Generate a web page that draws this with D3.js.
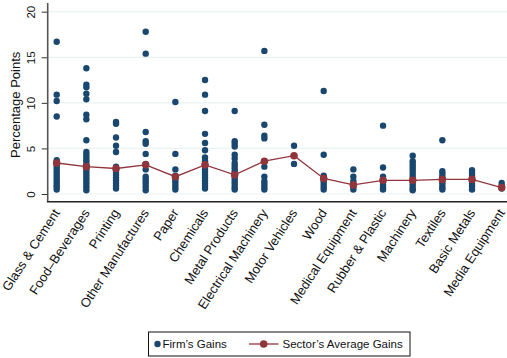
<!DOCTYPE html>
<html>
<head>
<meta charset="utf-8">
<script src="https://cdn.jsdelivr.net/npm/d3@7"></script>
<style>
  html, body { margin: 0; padding: 0; background: #fff; }
  svg { display: block; font-family: "Liberation Sans", Arial, sans-serif; }
</style>
</head>
<body>
<svg id="chart" width="507" height="358"></svg>
<script>
// Sectors, in plotting order
const sectors = [
  "Glass & Cement", "Food\u2013Beverages", "Printing", "Other Manufactures",
  "Paper", "Chemicals", "Metal Products", "Electrical Machinery",
  "Motor Vehicles", "Wood", "Medical Equipment", "Rubber & Plastic",
  "Machinery", "Textiles", "Basic Metals", "Media Equipment"
];

// Individual firm gains (percentage points), one list per sector
const firmGains = [
  [16.7, 10.9, 10.2, 8.5, 3.7, 3.4, 3.1, 2.8, 2.5, 2.2, 1.9, 1.6, 1.3, 1.0, 0.8, 0.5],
  [13.8, 12.0, 11.7, 11.0, 10.4, 8.7, 8.2, 5.9, 4.6, 4.3, 4.0, 3.7, 3.4, 3.1, 2.8, 2.5, 2.2, 1.9, 1.6, 1.3, 1.0, 0.7, 0.4],
  [7.9, 7.7, 6.2, 5.3, 4.6, 3.0, 2.7, 2.4, 2.1, 1.8, 1.5, 1.2, 0.9, 0.6],
  [17.8, 15.4, 6.8, 5.8, 5.5, 4.4, 3.3, 2.7, 1.9, 1.6, 1.3, 1.0, 0.7, 0.4],
  [10.1, 4.4, 2.7, 2.0, 1.7, 1.4, 1.1, 0.8, 0.5],
  [12.5, 10.9, 9.1, 6.6, 5.6, 4.8, 4.0, 3.6, 3.3, 3.0, 2.7, 2.4, 2.1, 1.8, 1.5, 1.2, 0.9, 0.6],
  [9.1, 5.8, 5.5, 5.2, 4.3, 3.9, 3.4, 3.1, 2.8, 2.5, 2.2, 1.9, 1.6, 1.3, 1.0, 0.7, 0.5],
  [15.7, 7.6, 6.4, 6.1, 3.6, 3.0, 1.9, 1.4, 1.1, 0.8, 0.5],
  [5.3, 3.3],
  [11.3, 4.3, 2.0, 1.7, 1.4, 1.1, 0.8, 0.5],
  [2.7, 1.9, 1.4, 1.1, 0.8, 0.5],
  [7.5, 2.9, 1.9, 1.6, 1.3, 1.0, 0.7, 0.5],
  [4.2, 3.6, 3.3, 3.0, 2.7, 2.4, 2.1, 1.8, 1.5, 1.2, 0.9, 0.6, 0.4],
  [5.9, 2.5, 2.2, 1.9, 1.6, 1.3, 1.0, 0.7, 0.5],
  [2.6, 2.3, 2.0, 1.7, 1.4, 1.1, 0.8, 0.5],
  [1.2, 0.9, 0.6]
];

// Sector average gains
const sectorAverage = [3.4, 3.0, 2.8, 3.2, 1.9, 3.2, 2.1, 3.6, 4.2, 1.7, 1.0, 1.5, 1.5, 1.6, 1.6, 0.7];

// Y axis ticks
const yTicks = [0, 5, 10, 15, 20];

const legendLabels = ["Firm\u2019s Gains", "Sector\u2019s Average Gains"];

const navy = "#1a476f";
const maroon = "#90353b";
const gridColor = "#eaf2f3";

const svg = d3.select("#chart");

const plotLeft = 47.7, plotRight = 507, axisY = 201.7;

const x = d3.scaleLinear().domain([1, sectors.length]).range([56.7, 501.7]);
const y = d3.scaleLinear().domain([0, 20]).range([194, 11.7]);

// Gridlines
svg.append("g")
  .selectAll("line")
  .data(yTicks)
  .join("line")
  .attr("x1", plotLeft).attr("x2", plotRight)
  .attr("y1", d => y(d)).attr("y2", d => y(d))
  .attr("stroke", gridColor)
  .attr("stroke-width", 1.2);

// Y axis
const yAxis = svg.append("g")
  .attr("transform", `translate(${plotLeft},0)`)
  .call(d3.axisLeft(y).tickValues(yTicks).tickSize(6).tickSizeOuter(0).tickFormat(d3.format("d")));
yAxis.select(".domain").remove();
yAxis.selectAll(".tick line").attr("stroke", "#333").attr("stroke-width", 1);
yAxis.selectAll(".tick text")
  .attr("x", 0).attr("y", 0).attr("dy", null)
  .attr("text-anchor", "middle")
  .attr("transform", "translate(-12.5,0) rotate(-90)")
  .attr("font-size", 11.5)
  .attr("fill", "#111")
  .style("font-family", "Liberation Sans, Arial, sans-serif");
svg.append("line")
  .attr("x1", plotLeft).attr("x2", plotLeft)
  .attr("y1", 3).attr("y2", axisY)
  .attr("stroke", "#555").attr("stroke-width", 1.6);

// X axis line
svg.append("line")
  .attr("x1", plotLeft - 0.8).attr("x2", plotRight)
  .attr("y1", axisY).attr("y2", axisY)
  .attr("stroke", "#222").attr("stroke-width", 1.6);

// Y title
svg.append("text")
  .attr("transform", `translate(20,${(y(0) + y(20)) / 2 + 2}) rotate(-90)`)
  .attr("text-anchor", "middle")
  .attr("font-size", 13)
  .attr("fill", "#111")
  .text("Percentage Points");

// Rotated sector labels
svg.append("g")
  .selectAll("text")
  .data(sectors)
  .join("text")
  .attr("transform", (d, i) => `translate(${x(i + 1)},${axisY + 8.5}) rotate(-57)`)
  .attr("text-anchor", "end")
  .attr("dy", "0.35em")
  .attr("font-size", 13)
  .attr("fill", "#111")
  .text(d => d);

// Firm points
const firmPoints = firmGains.flatMap((vals, i) => vals.map(v => ({ i, v })));
svg.append("g")
  .selectAll("circle")
  .data(firmPoints)
  .join("circle")
  .attr("cx", d => x(d.i + 1))
  .attr("cy", d => y(d.v))
  .attr("r", 3.2)
  .attr("fill", navy);

// Sector average line and markers
const line = d3.line().x((d, i) => x(i + 1)).y(d => y(d));
svg.append("path")
  .datum(sectorAverage)
  .attr("d", line)
  .attr("fill", "none")
  .attr("stroke", maroon)
  .attr("stroke-width", 1.3);
svg.append("g")
  .selectAll("circle")
  .data(sectorAverage)
  .join("circle")
  .attr("cx", (d, i) => x(i + 1))
  .attr("cy", d => y(d))
  .attr("r", 3.8)
  .attr("fill", maroon);

// Legend
const lg = svg.append("g");
lg.append("rect")
  .attr("x", 148.5).attr("y", 332)
  .attr("width", 261.5).attr("height", 24)
  .attr("fill", "#fff").attr("stroke", "#111").attr("stroke-width", 1);
lg.append("circle").attr("cx", 157.5).attr("cy", 344).attr("r", 3.2).attr("fill", navy);
lg.append("text").attr("x", 162.5).attr("y", 348.2).attr("font-size", 11.5).attr("fill", "#111").text(legendLabels[0]);
lg.append("line").attr("x1", 249).attr("x2", 278.5).attr("y1", 344).attr("y2", 344)
  .attr("stroke", maroon).attr("stroke-width", 1.3);
lg.append("circle").attr("cx", 263.7).attr("cy", 344).attr("r", 3.8).attr("fill", maroon);
lg.append("text").attr("x", 282.5).attr("y", 348.2).attr("font-size", 11.5).attr("fill", "#111").text(legendLabels[1]);
</script>
</body>
</html>
